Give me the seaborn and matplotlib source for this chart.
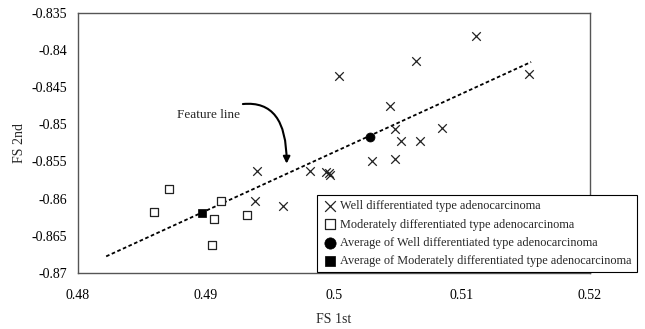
import matplotlib
matplotlib.use("Agg")
import matplotlib.pyplot as plt
import seaborn as sns
import pandas as pd

# ---- data ----
well_x = [0.5111, 0.5064, 0.5004, 0.5152, 0.5044, 0.5048, 0.5084, 0.5052, 0.5067,
          0.5030, 0.5048, 0.4940, 0.4981, 0.4994, 0.4996, 0.4997, 0.4938, 0.4960]
well_y = [-0.8381, -0.8415, -0.8435, -0.8432, -0.8476, -0.8507, -0.8505, -0.8523, -0.8523,
          -0.8550, -0.8547, -0.8563, -0.8563, -0.8564, -0.8566, -0.8568, -0.8603, -0.8610]
mod_x = [0.4871, 0.4859, 0.4912, 0.4906, 0.4932, 0.4905]
mod_y = [-0.8587, -0.8618, -0.8603, -0.8627, -0.8622, -0.8663]
avg_well_x = [0.5028]
avg_well_y = [-0.8517]
avg_mod_x = [0.4897]
avg_mod_y = [-0.8620]
line_x = [0.4822, 0.5154]
line_y = [-0.8678, -0.8416]

x_ticks = [0.48, 0.49, 0.50, 0.51, 0.52]
x_labels = ["0.48", "0.49", "0.5", "0.51", "0.52"]
y_ticks = [-0.835, -0.84, -0.845, -0.85, -0.855, -0.86, -0.865, -0.87]
y_labels = ["-0.835", "-0.84", "-0.845", "-0.85", "-0.855", "-0.86", "-0.865", "-0.87"]

labels = ["Well differentiated type adenocarcinoma",
          "Moderately differentiated type adenocarcinoma",
          "Average of Well differentiated type adenocarcinoma",
          "Average of Moderately differentiated type adenocarcinoma"]

sns.set_theme(style="white")
plt.rcParams["font.family"] = ["Liberation Serif", "DejaVu Serif"]

fig = plt.figure(figsize=(6.45, 3.29), dpi=100)
ax = fig.add_axes([78 / 645, 1 - 272.7 / 329, (590 - 78) / 645, (272.7 - 13) / 329])

# feature line
sns.lineplot(x=line_x, y=line_y, ax=ax, color="black", linewidth=1.3,
             linestyle=(0, (2.0, 1.4)), zorder=2)

sns.scatterplot(x=well_x, y=well_y, ax=ax, marker="x", s=38, color="#222222",
                linewidth=0.9, label=labels[0], zorder=3)
sns.scatterplot(x=mod_x, y=mod_y, ax=ax, marker="s", s=36, facecolor="white",
                edgecolor="#222222", linewidth=0.9, label=labels[1], zorder=3)
sns.scatterplot(x=avg_well_x, y=avg_well_y, ax=ax, marker="o", s=42, color="black",
                edgecolor="black", label=labels[2], zorder=4)
sns.scatterplot(x=avg_mod_x, y=avg_mod_y, ax=ax, marker="s", s=40, color="black",
                edgecolor="black", label=labels[3], zorder=4)

ax.set_xlim(0.48, 0.52)
ax.set_ylim(-0.87, -0.835)
ax.set_xticks(x_ticks)
ax.set_xticklabels(x_labels)
ax.set_yticks(y_ticks)
ax.set_yticklabels(y_labels)
ax.tick_params(axis="both", length=0, labelsize=10, colors="black", pad=8)
ax.tick_params(axis="x", pad=12)
for sp in ax.spines.values():
    sp.set_color("#555555")
    sp.set_linewidth(1.0)
    sp.set_visible(True)

ax.set_xlabel("FS 1st", fontsize=10, labelpad=8)
ax.set_ylabel("FS 2nd", fontsize=10, labelpad=4)

ax.annotate("Feature line", xy=(0.4963, -0.8553), xytext=(0.4902, -0.8487),
            fontsize=9.5, ha="center", va="center",
            arrowprops=dict(arrowstyle="-|>", color="black", lw=1.5,
                            mutation_scale=10, shrinkA=6, shrinkB=0,
                            connectionstyle="angle3,angleA=25,angleB=90"))

leg = ax.legend(loc="upper left", bbox_to_anchor=(317 / 645, 1 - 195 / 329),
                bbox_transform=fig.transFigure, frameon=True, fancybox=False,
                fontsize=8.8, handlelength=1.2, handletextpad=0.25,
                labelspacing=0.5, borderpad=0.45, borderaxespad=0,
                markerscale=1.25,
                edgecolor="black", facecolor="white", framealpha=1)
leg.get_frame().set_linewidth(0.8)
leg.set_zorder(10)

fig.savefig("out.png", dpi=100)
